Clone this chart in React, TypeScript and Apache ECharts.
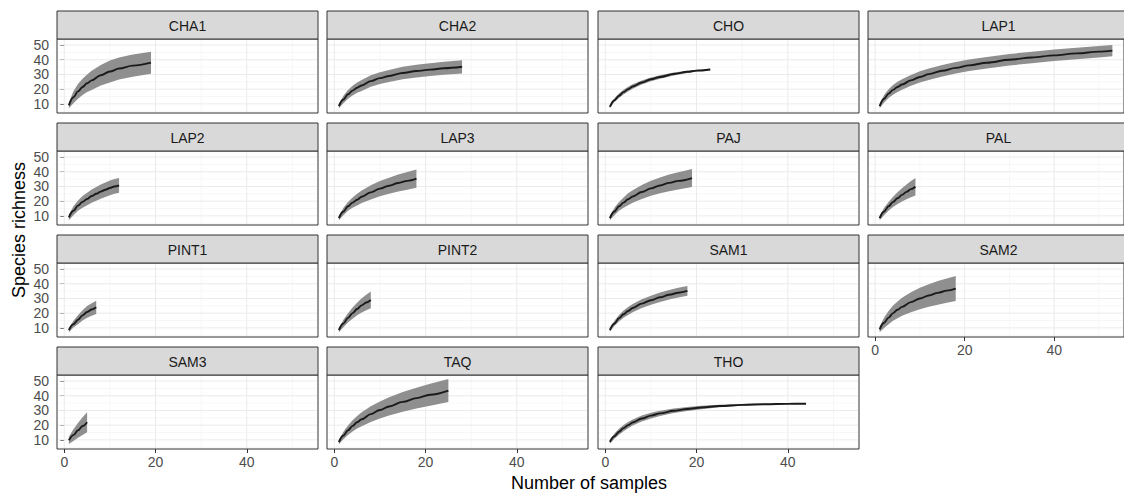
import React, { useEffect, useRef } from "react";
import * as echarts from "echarts";

// ---------- data ----------
const SITES = ["CHA1", "CHA2", "CHO", "LAP1", "LAP2", "LAP3", "PAJ", "PAL", "PINT1", "PINT2", "SAM1", "SAM2", "SAM3", "TAQ", "THO"];

const CHA1_X = [1, 2, 3, 4, 5, 6, 8, 10, 12, 15, 19];
const CHA1_MEAN = [9, 14.5, 18.5, 21.5, 24, 26, 29.5, 32, 34, 36, 38];
const CHA1_LO = [7, 10.5, 13.5, 16, 18, 19.5, 22.5, 24.5, 26.5, 28.5, 30.5];
const CHA1_HI = [11, 18.5, 23.5, 27, 30, 32.5, 36.5, 39.5, 41.5, 43.5, 45.5];

const CHA2_X = [1, 2, 3, 4, 5, 6, 8, 10, 12, 15, 18, 21, 24, 28];
const CHA2_MEAN = [8.5, 13, 16.5, 19, 21, 22.5, 25.5, 27.5, 29, 31, 32.3, 33.3, 34.2, 35.2];
const CHA2_LO = [7, 10.5, 13.5, 15.7, 17.5, 18.8, 21.6, 23.5, 24.9, 26.8, 28, 28.9, 29.8, 30.7];
const CHA2_HI = [10, 15.5, 19.5, 22.3, 24.5, 26.2, 29.4, 31.5, 33.1, 35.2, 36.6, 37.7, 38.6, 39.7];

const CHO_X = [1, 2, 3, 4, 5, 6, 8, 10, 12, 15, 18, 20, 23];
const CHO_MEAN = [8, 12.5, 15.5, 18, 20, 21.8, 24.5, 26.7, 28.3, 30.3, 31.8, 32.6, 33.4];
const CHO_LO = [7.2, 11.2, 14, 16.4, 18.4, 20.3, 23.1, 25.4, 27.1, 29.3, 31, 32, 33];
const CHO_HI = [8.8, 13.8, 17, 19.6, 21.6, 23.3, 25.9, 28, 29.5, 31.3, 32.6, 33.2, 33.8];

const LAP1_X = [1, 2, 3, 4, 5, 6, 8, 10, 12, 15, 18, 21, 25, 30, 35, 40, 45, 50, 53];
const LAP1_MEAN = [8.5, 13.5, 17, 19.5, 21.5, 23.2, 26, 28.3, 30.2, 32.5, 34.5, 36.2, 38, 40, 41.5, 43, 44.3, 45.5, 46.2];
const LAP1_LO = [7, 11, 14, 16.2, 18, 19.6, 22.3, 24.5, 26.3, 28.6, 30.6, 32.3, 34.1, 36.1, 37.6, 39.1, 40.4, 41.6, 42.3];
const LAP1_HI = [10, 16, 20, 22.8, 25, 26.8, 29.7, 32.1, 34.1, 36.4, 38.4, 40.1, 41.9, 43.9, 45.4, 46.9, 48.2, 49.4, 50.1];

const LAP2_X = [1, 2, 3, 4, 5, 6, 7, 8, 9, 10, 11, 12];
const LAP2_MEAN = [9, 13.5, 17, 19.5, 21.5, 23.5, 25, 26.5, 27.8, 29, 30, 30.8];
const LAP2_LO = [7, 10.5, 13.5, 15.5, 17.2, 19, 20.3, 21.7, 22.9, 24, 25, 25.8];
const LAP2_HI = [11, 16.5, 20.5, 23.5, 25.8, 28, 29.7, 31.3, 32.7, 34, 35, 35.8];

const LAP3_X = [1, 2, 3, 4, 5, 6, 8, 10, 12, 14, 16, 18];
const LAP3_MEAN = [8.5, 13, 16.5, 19, 21, 23, 26, 28.5, 30.5, 32.3, 33.8, 35.3];
const LAP3_LO = [7, 10.5, 13.5, 15.5, 17, 18.7, 21.2, 23.3, 25, 26.5, 27.8, 29.1];
const LAP3_HI = [10, 15.5, 19.5, 22.5, 25, 27.3, 30.8, 33.7, 36, 38.1, 39.8, 41.5];

const PAJ_X = [1, 2, 3, 4, 5, 6, 8, 10, 12, 14, 16, 19];
const PAJ_MEAN = [8.5, 13, 16.5, 19, 21.3, 23.2, 26.2, 28.7, 30.7, 32.4, 33.8, 35.7];
const PAJ_LO = [7, 10.5, 13.5, 15.5, 17.3, 18.9, 21.4, 23.6, 25.3, 26.7, 27.9, 29.6];
const PAJ_HI = [10, 15.5, 19.5, 22.5, 25.3, 27.5, 31, 33.8, 36.1, 38.1, 39.7, 41.8];

const PAL_X = [1, 2, 3, 4, 5, 6, 7, 8, 9];
const PAL_MEAN = [8.5, 13, 16.5, 19.5, 22, 24.3, 26.3, 28.2, 29.8];
const PAL_LO = [7, 10.5, 13.5, 16, 18, 19.8, 21.3, 22.7, 23.8];
const PAL_HI = [10, 15.5, 19.5, 23, 26, 28.8, 31.3, 33.7, 35.8];

const PINT1_X = [1, 2, 3, 4, 5, 6, 7];
const PINT1_MEAN = [8.5, 12.5, 15.5, 18.5, 20.8, 22.5, 24];
const PINT1_LO = [7, 10.2, 12.5, 15, 16.8, 18.2, 19.5];
const PINT1_HI = [10, 14.8, 18.5, 22, 24.8, 26.8, 28.5];

const PINT2_X = [1, 2, 3, 4, 5, 6, 7, 8];
const PINT2_MEAN = [8.5, 13, 16.8, 20, 22.8, 25.3, 27.3, 29];
const PINT2_LO = [7, 10.5, 13.6, 16.2, 18.5, 20.5, 22, 23.3];
const PINT2_HI = [10, 15.5, 20, 23.8, 27.1, 30.1, 32.6, 34.7];

const SAM1_X = [1, 2, 3, 4, 5, 6, 8, 10, 12, 14, 16, 18];
const SAM1_MEAN = [8.5, 13, 16.5, 19.3, 21.5, 23.5, 26.5, 28.8, 30.8, 32.5, 33.9, 35.1];
const SAM1_LO = [7.5, 11.2, 14.3, 16.8, 18.8, 20.7, 23.5, 25.7, 27.6, 29.3, 30.6, 31.8];
const SAM1_HI = [9.5, 14.8, 18.7, 21.8, 24.2, 26.3, 29.5, 31.9, 34, 35.7, 37.2, 38.4];

const SAM2_X = [1, 2, 3, 4, 5, 6, 8, 10, 12, 14, 16, 18];
const SAM2_MEAN = [9, 13.5, 17, 20, 22.3, 24.3, 27.5, 30, 32, 33.8, 35.3, 36.7];
const SAM2_LO = [7, 10, 12.5, 14.8, 16.6, 18.2, 20.7, 22.7, 24.3, 25.8, 27, 28.2];
const SAM2_HI = [11, 17, 21.5, 25.2, 28, 30.4, 34.3, 37.3, 39.7, 41.8, 43.6, 45.2];

const SAM3_X = [1, 2, 3, 4, 5];
const SAM3_MEAN = [9.7, 13.2, 16.5, 19.4, 22];
const SAM3_LO = [7.2, 9.2, 11.5, 13.4, 15.2];
const SAM3_HI = [12.2, 17.2, 21.5, 25.4, 28.8];

const TAQ_X = [1, 2, 3, 4, 5, 6, 8, 10, 12, 15, 18, 21, 25];
const TAQ_MEAN = [8.5, 13, 16.5, 19.5, 22, 24, 27.5, 30.3, 32.7, 35.8, 38.4, 40.7, 43.5];
const TAQ_LO = [7, 10.5, 13.3, 15.7, 17.7, 19.3, 22.2, 24.5, 26.5, 29.1, 31.3, 33.2, 35.7];
const TAQ_HI = [10, 15.5, 19.7, 23.3, 26.3, 28.7, 32.8, 36.1, 38.9, 42.5, 45.5, 48.2, 51.3];

const THO_X = [1, 2, 3, 4, 5, 6, 8, 10, 12, 15, 18, 21, 25, 30, 35, 40, 44];
const THO_MEAN = [8.6, 12.5, 15.5, 18, 20, 21.8, 24.5, 26.5, 28, 29.8, 31, 32, 33, 33.8, 34.2, 34.5, 34.6];
const THO_LO = [7.4, 10.7, 13.5, 15.9, 17.9, 19.7, 22.5, 24.6, 26.2, 28.2, 29.6, 30.8, 32.1, 33.2, 33.9, 34.4, 34.6];
const THO_HI = [9.8, 14.3, 17.5, 20.1, 22.1, 23.9, 26.5, 28.4, 29.8, 31.4, 32.4, 33.2, 33.9, 34.4, 34.5, 34.6, 34.6];

const X_MAJOR = [0, 20, 40];
const X_MINOR = [10, 30, 50];
const Y_MAJOR = [10, 20, 30, 40, 50];
const Y_MINOR = [5, 15, 25, 35, 45];
const X_MIN = -1.6;
const X_MAX = 55.6;
const Y_MIN = 3.8;
const Y_MAX = 54.1;

const SITE_DATA: Record<string, { x: number[]; mean: number[]; lo: number[]; hi: number[] }> = {
  CHA1: { x: CHA1_X, mean: CHA1_MEAN, lo: CHA1_LO, hi: CHA1_HI },
  CHA2: { x: CHA2_X, mean: CHA2_MEAN, lo: CHA2_LO, hi: CHA2_HI },
  CHO: { x: CHO_X, mean: CHO_MEAN, lo: CHO_LO, hi: CHO_HI },
  LAP1: { x: LAP1_X, mean: LAP1_MEAN, lo: LAP1_LO, hi: LAP1_HI },
  LAP2: { x: LAP2_X, mean: LAP2_MEAN, lo: LAP2_LO, hi: LAP2_HI },
  LAP3: { x: LAP3_X, mean: LAP3_MEAN, lo: LAP3_LO, hi: LAP3_HI },
  PAJ: { x: PAJ_X, mean: PAJ_MEAN, lo: PAJ_LO, hi: PAJ_HI },
  PAL: { x: PAL_X, mean: PAL_MEAN, lo: PAL_LO, hi: PAL_HI },
  PINT1: { x: PINT1_X, mean: PINT1_MEAN, lo: PINT1_LO, hi: PINT1_HI },
  PINT2: { x: PINT2_X, mean: PINT2_MEAN, lo: PINT2_LO, hi: PINT2_HI },
  SAM1: { x: SAM1_X, mean: SAM1_MEAN, lo: SAM1_LO, hi: SAM1_HI },
  SAM2: { x: SAM2_X, mean: SAM2_MEAN, lo: SAM2_LO, hi: SAM2_HI },
  SAM3: { x: SAM3_X, mean: SAM3_MEAN, lo: SAM3_LO, hi: SAM3_HI },
  TAQ: { x: TAQ_X, mean: TAQ_MEAN, lo: TAQ_LO, hi: TAQ_HI },
  THO: { x: THO_X, mean: THO_MEAN, lo: THO_LO, hi: THO_HI },
};

// ---------- layout / style ----------
const FONT = '"Liberation Sans", Arial, Helvetica, sans-serif';
const COL_LEFT0 = 57;
const COL_PITCH = 270.4;
const PANEL_W = 261;
const ROW_TOP0 = 11;
const ROW_PITCH = 112;
const STRIP_H = 28;
const PLOT_H = 74;
const BAND_COLOR = "#8f8f8f";
const LINE_COLOR = "#1a1a1a";
const BORDER = "#333333";

function buildOption() {
  const grids: any[] = [];
  const xAxes: any[] = [];
  const yAxes: any[] = [];
  const series: any[] = [];
  const graphics: any[] = [];

  const gridLineRows: number[][] = [
    ...X_MINOR.map((v) => [0, v, 0]),
    ...Y_MINOR.map((v) => [1, v, 0]),
    ...X_MAJOR.map((v) => [0, v, 1]),
    ...Y_MAJOR.map((v) => [1, v, 1]),
  ];

  SITES.forEach((site, i) => {
    const row = Math.floor(i / 4);
    const col = i % 4;
    const left = Math.round(COL_LEFT0 + col * COL_PITCH);
    const stripTop = ROW_TOP0 + row * ROW_PITCH;
    const top = stripTop + STRIP_H;
    const showX = row === 3 || (row === 2 && col === 3);
    const showY = col === 0;

    grids.push({
      left,
      top,
      width: PANEL_W,
      height: PLOT_H,
      show: true,
      backgroundColor: "#ffffff",
      borderColor: BORDER,
      borderWidth: 1,
      containLabel: false,
    });

    xAxes.push({
      gridIndex: i,
      type: "value",
      min: X_MIN,
      max: X_MAX,
      axisLine: { show: false },
      splitLine: { show: false },
      axisTick: { show: showX, customValues: X_MAJOR, length: 4, lineStyle: { color: BORDER, width: 1 } },
      axisLabel: { show: showX, customValues: X_MAJOR, color: "#4d4d4d", fontSize: 14, fontFamily: FONT, margin: 6 },
    });
    yAxes.push({
      gridIndex: i,
      type: "value",
      min: Y_MIN,
      max: Y_MAX,
      axisLine: { show: false },
      splitLine: { show: false },
      axisTick: { show: showY, customValues: Y_MAJOR, length: 4, lineStyle: { color: BORDER, width: 1 } },
      axisLabel: { show: showY, customValues: Y_MAJOR, color: "#4d4d4d", fontSize: 14, fontFamily: FONT, margin: 8 },
    });

    // grid lines
    series.push({
      type: "custom",
      xAxisIndex: i,
      yAxisIndex: i,
      z: 1,
      silent: true,
      data: gridLineRows,
      renderItem: (params: any, api: any) => {
        const cs = params.coordSys;
        const orient = api.value(0);
        const v = api.value(1);
        const major = api.value(2) === 1;
        const style = { stroke: major ? "#ebebeb" : "#f2f2f2", lineWidth: major ? 1 : 0.6 };
        if (orient === 0) {
          const p = api.coord([v, Y_MIN]);
          return { type: "line", shape: { x1: p[0], y1: cs.y + 1, x2: p[0], y2: cs.y + cs.height - 1 }, style };
        }
        const p = api.coord([X_MIN, v]);
        return { type: "line", shape: { x1: cs.x + 1, y1: p[1], x2: cs.x + cs.width - 1, y2: p[1] }, style };
      },
    });

    const d = SITE_DATA[site];
    // confidence band
    series.push({
      type: "custom",
      xAxisIndex: i,
      yAxisIndex: i,
      z: 2,
      silent: true,
      data: d.x.map((x, k) => [x, d.lo[k], d.hi[k]]),
      renderItem: (params: any, api: any) => {
        if (params.dataIndex !== 0) return null;
        const pts: number[][] = [];
        for (let k = 0; k < d.x.length; k++) pts.push(api.coord([d.x[k], d.hi[k]]));
        for (let k = d.x.length - 1; k >= 0; k--) pts.push(api.coord([d.x[k], d.lo[k]]));
        return { type: "polygon", shape: { points: pts }, style: { fill: BAND_COLOR } };
      },
    });
    // mean curve
    series.push({
      type: "line",
      xAxisIndex: i,
      yAxisIndex: i,
      z: 3,
      silent: true,
      showSymbol: false,
      smooth: 0.35,
      smoothMonotone: "x",
      data: d.x.map((x, k) => [x, d.mean[k]]),
      lineStyle: { color: LINE_COLOR, width: 1.9 },
    });

    // strip
    graphics.push({
      type: "rect",
      silent: true,
      shape: { x: left, y: stripTop, width: PANEL_W, height: STRIP_H },
      style: { fill: "#d9d9d9", stroke: BORDER, lineWidth: 1 },
      z: 10,
    });
    graphics.push({
      type: "text",
      silent: true,
      x: left + PANEL_W / 2,
      y: stripTop + STRIP_H / 2 + 1,
      style: { text: site, fill: "#1a1a1a", font: `14px ${FONT}`, align: "center", verticalAlign: "middle" },
      z: 11,
    });
  });

  graphics.push({
    type: "text",
    silent: true,
    x: 589,
    y: 483,
    style: { text: "Number of samples", fill: "#000000", font: `18px ${FONT}`, align: "center", verticalAlign: "middle" },
  });
  graphics.push({
    type: "text",
    silent: true,
    x: 19,
    y: 230,
    rotation: Math.PI / 2,
    style: { text: "Species richness", fill: "#000000", font: `18px ${FONT}`, align: "center", verticalAlign: "middle" },
  });

  return {
    animation: false,
    backgroundColor: "#ffffff",
    grid: grids,
    xAxis: xAxes,
    yAxis: yAxes,
    series,
    graphic: graphics,
  };
}

export default function App() {
  const ref = useRef<HTMLDivElement>(null);
  useEffect(() => {
    if (!ref.current) return;
    const chart = echarts.init(ref.current, undefined, { renderer: "svg" });
    chart.setOption(buildOption() as any);
    return () => chart.dispose();
  }, []);
  return (
    <div
      ref={ref}
      style={{ position: "absolute", left: 0, top: 0, width: 1124, height: 498, background: "#fff" }}
    />
  );
}
